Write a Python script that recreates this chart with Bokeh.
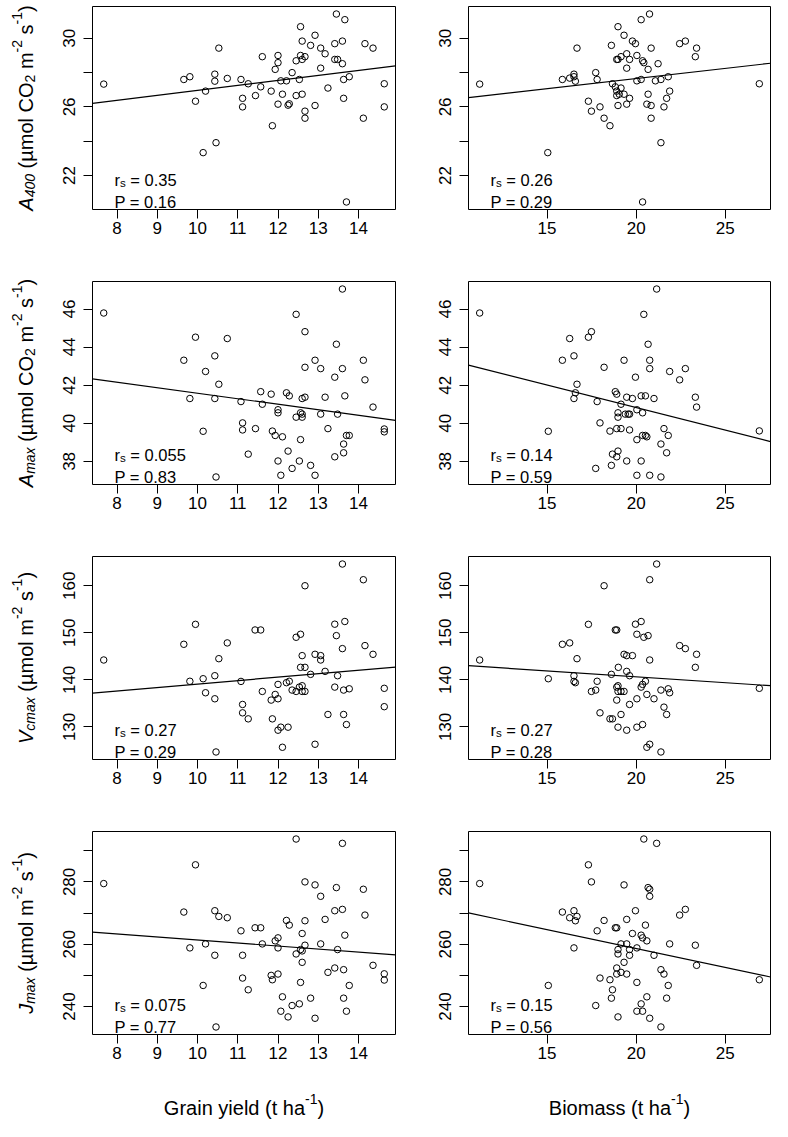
import math
import numpy as np
from bokeh.plotting import figure
from bokeh.layouts import column, row
from bokeh.models import Label, Range1d, FixedTicker
from bokeh.core.properties import value
from bokeh.embed import file_html
from bokeh.resources import INLINE

# ---------------- data ----------------
a400_grain_x = [7.67, 9.66, 9.81, 9.95, 10.2, 10.14, 10.43, 10.43, 10.53, 10.46, 10.74, 11.08, 11.12, 11.12, 11.26, 11.44,
                11.57, 11.61, 11.83, 11.86, 11.93, 12.0, 12.0, 12.0, 12.07, 12.11, 12.21, 12.25, 12.28, 12.35, 12.45, 12.45,
                12.53, 12.56, 12.56, 12.6, 12.6, 12.6, 12.67, 12.67, 12.67, 12.81, 12.92, 12.92, 13.06, 13.06, 13.17, 13.24,
                13.41, 13.41, 13.45, 13.48, 13.6, 13.6, 13.63, 13.63, 13.66, 13.77, 13.7, 14.12, 14.16, 14.36, 14.64, 14.64]
a400_grain_y = [27.33, 27.6, 27.76, 26.33, 26.92, 23.33, 27.91, 27.5, 29.43, 23.91, 27.66, 27.6, 26.5, 26.0, 27.35, 26.66,
                27.17, 28.93, 26.92, 24.9, 28.19, 29.0, 28.58, 26.16, 27.52, 26.74, 27.52, 26.1, 26.18, 28.0, 28.69, 26.66,
                27.6, 30.68, 29.0, 29.84, 26.74, 28.77, 28.93, 25.75, 25.34, 29.59, 30.18, 26.08, 29.43, 28.26, 29.1, 27.1,
                29.69, 28.77, 31.42, 28.77, 29.84, 28.52, 27.6, 26.5, 31.09, 27.76, 20.45, 25.34, 29.69, 29.43, 27.35, 26.0]

a400_bio_x = [11.22, 15.04, 15.86, 16.27, 16.51, 16.51, 16.59, 16.68, 17.32, 17.49, 17.73, 17.81, 17.97, 18.2, 18.53, 18.61,
              18.67, 18.83, 18.91, 18.91, 18.91, 18.98, 18.98, 18.98, 19.05, 19.15, 19.15, 19.32, 19.32, 19.47, 19.47, 19.47,
              19.63, 19.63, 19.79, 19.96, 20.04, 20.04, 20.28, 20.28, 20.36, 20.43, 20.36, 20.67, 20.67, 20.6, 20.75, 20.84,
              20.84, 20.84, 21.08, 21.23, 21.39, 21.39, 21.56, 21.71, 21.8, 21.88, 22.44, 22.76, 23.32, 23.39, 26.91]
a400_bio_y = [27.33, 23.33, 27.6, 27.68, 27.91, 27.76, 27.5, 29.43, 26.33, 25.75, 28.0, 27.6, 26.0, 25.34, 24.9, 29.59,
              27.35, 27.17, 26.92, 26.66, 28.77, 30.68, 28.77, 26.08, 26.74, 27.1, 28.93, 30.18, 26.74, 28.26, 26.16, 29.1,
              28.77, 26.5, 29.84, 29.69, 29.0, 27.52, 27.6, 31.09, 28.69, 28.58, 20.45, 28.19, 26.74, 26.16, 31.42, 29.43,
              26.08, 25.34, 27.52, 28.52, 27.6, 23.91, 26.0, 26.5, 27.76, 26.92, 29.69, 29.84, 28.93, 29.43, 27.35]

amax_grain_x = [7.67, 9.66, 9.81, 9.95, 10.2, 10.14, 10.43, 10.43, 10.53, 10.46, 10.74, 11.08, 11.12, 11.12, 11.26, 11.44,
                11.57, 11.61, 11.83, 11.86, 11.93, 12.0, 12.0, 12.0, 12.07, 12.11, 12.21, 12.28, 12.25, 12.35, 12.45, 12.45,
                12.53, 12.56, 12.56, 12.6, 12.6, 12.6, 12.67, 12.67, 12.67, 12.81, 12.92, 12.92, 13.06, 13.06, 13.17, 13.24,
                13.41, 13.41, 13.45, 13.48, 13.6, 13.6, 13.63, 13.63, 13.66, 13.7, 13.77, 14.12, 14.16, 14.36, 14.64, 14.64]
amax_grain_y = [45.79, 43.31, 41.3, 44.52, 42.72, 39.58, 43.54, 41.3, 42.05, 37.18, 44.45, 41.14, 40.02, 39.65, 38.38, 39.72,
                41.66, 41.0, 41.53, 39.59, 39.36, 40.71, 40.55, 38.02, 37.27, 39.29, 41.6, 41.44, 38.54, 37.63, 45.72, 40.32,
                38.02, 40.55, 39.14, 41.3, 40.32, 40.48, 44.81, 42.94, 41.37, 37.79, 43.31, 37.27, 42.87, 40.48, 41.37, 39.72,
                42.42, 38.24, 44.15, 40.48, 47.05, 42.87, 38.91, 38.45, 41.44, 39.36, 39.36, 43.31, 42.28, 40.85, 39.7, 39.55]

amax_bio_x = [11.22, 15.07, 15.86, 16.27, 16.51, 16.51, 16.59, 16.68, 17.32, 17.49, 17.81, 17.73, 17.97, 18.2, 18.53, 18.61,
              18.67, 18.83, 18.91, 18.91, 18.98, 18.98, 18.98, 18.91, 19.15, 19.15, 19.32, 19.39, 19.47, 19.47, 19.55, 19.63,
              19.63, 19.79, 19.96, 20.04, 20.04, 20.04, 20.28, 20.28, 20.36, 20.36, 20.43, 20.52, 20.52, 20.6, 20.67, 20.76,
              20.76, 20.76, 21.0, 21.15, 21.39, 21.39, 21.56, 21.71, 21.8, 21.88, 22.44, 22.76, 23.32, 23.39, 26.91]
amax_bio_y = [45.79, 39.58, 43.31, 44.45, 43.54, 41.3, 41.6, 42.05, 44.52, 44.81, 41.14, 37.63, 40.02, 42.94, 39.59, 37.79,
              38.38, 41.66, 41.53, 39.72, 40.32, 40.55, 38.54, 38.24, 41.0, 39.72, 43.31, 40.48, 41.37, 38.02, 40.48, 40.48,
              39.65, 41.3, 42.42, 40.71, 39.14, 37.27, 41.44, 38.02, 40.55, 39.36, 45.72, 41.44, 39.36, 39.29, 44.15, 43.31,
              42.87, 37.27, 41.3, 47.05, 38.91, 37.18, 39.72, 38.45, 39.36, 42.72, 42.28, 42.87, 41.37, 40.85, 39.6]

vcmax_grain_x = [7.67, 9.66, 9.81, 9.95, 10.14, 10.2, 10.43, 10.43, 10.53, 10.46, 10.74, 11.08, 11.12, 11.12, 11.26, 11.43,
                 11.57, 11.61, 11.83, 11.86, 11.93, 12.0, 12.0, 12.0, 12.07, 12.11, 12.21, 12.28, 12.25, 12.35, 12.45, 12.45,
                 12.53, 12.56, 12.56, 12.6, 12.6, 12.6, 12.67, 12.67, 12.67, 12.81, 12.92, 12.92, 13.06, 13.06, 13.17, 13.24,
                 13.41, 13.41, 13.45, 13.48, 13.6, 13.6, 13.63, 13.63, 13.66, 13.7, 13.77, 14.12, 14.16, 14.36, 14.64, 14.64]
vcmax_grain_y = [144.22, 147.56, 139.7, 151.8, 140.24, 137.26, 140.88, 135.98, 144.5, 124.67, 147.85, 139.67, 134.77, 132.99,
                 131.71, 150.6, 150.6, 137.54, 135.7, 131.71, 136.9, 139.03, 135.98, 129.3, 129.94, 125.67, 139.4, 139.7,
                 129.94, 137.83, 149.05, 137.54, 138.46, 149.69, 142.66, 145.15, 138.75, 137.54, 160.0, 142.66, 137.54,
                 141.17, 145.43, 126.31, 145.15, 144.22, 141.8, 132.64, 151.83, 138.46, 149.4, 140.88, 164.62, 146.64,
                 137.83, 132.64, 152.4, 130.5, 138.1, 161.28, 147.28, 145.43, 138.2, 134.3]

vcmax_bio_x = [11.22, 15.07, 15.86, 16.27, 16.51, 16.51, 16.59, 16.68, 17.32, 17.49, 17.73, 17.81, 17.97, 18.2, 18.53, 18.61,
               18.67, 18.83, 18.91, 18.91, 18.98, 18.98, 18.91, 18.98, 19.15, 19.15, 19.32, 19.32, 19.0, 19.47, 19.47, 19.47,
               19.63, 19.63, 19.79, 19.96, 20.04, 20.04, 20.04, 20.28, 20.28, 20.36, 20.36, 20.43, 20.52, 20.6, 20.6, 20.67,
               20.76, 20.76, 20.76, 21.0, 21.15, 21.39, 21.39, 21.56, 21.71, 21.8, 21.88, 22.44, 22.76, 23.32, 23.39, 26.91]
vcmax_bio_y = [144.22, 140.24, 147.56, 147.85, 140.88, 139.67, 139.4, 144.5, 151.8, 137.54, 137.83, 139.7, 132.99, 160.0,
               131.71, 141.17, 131.71, 150.6, 150.6, 138.46, 138.75, 137.54, 135.7, 129.94, 137.54, 132.64, 137.54, 145.43,
               142.66, 145.15, 141.8, 129.3, 140.88, 134.77, 145.15, 151.83, 149.69, 135.98, 129.94, 152.4, 138.46, 139.03,
               130.5, 149.05, 139.7, 136.9, 125.67, 149.4, 161.28, 144.22, 126.31, 135.98, 164.62, 137.83, 124.67, 134.2,
               132.64, 138.1, 137.26, 147.28, 146.64, 142.66, 145.43, 138.2]

jmax_grain_x = [7.67, 9.66, 9.81, 9.95, 10.14, 10.2, 10.43, 10.43, 10.53, 10.46, 10.74, 11.08, 11.12, 11.12, 11.26, 11.43,
                11.57, 11.61, 11.83, 11.86, 11.93, 12.0, 12.0, 12.0, 12.11, 12.07, 12.21, 12.28, 12.25, 12.35, 12.45, 12.45,
                12.53, 12.56, 12.56, 12.6, 12.6, 12.6, 12.67, 12.67, 12.67, 12.81, 12.92, 12.92, 13.06, 13.06, 13.17, 13.24,
                13.41, 13.41, 13.45, 13.48, 13.6, 13.6, 13.63, 13.63, 13.66, 13.7, 13.77, 14.12, 14.16, 14.36, 14.64, 14.64]
jmax_grain_y = [279.46, 270.32, 258.82, 285.48, 246.77, 260.1, 270.75, 256.45, 268.92, 233.44, 268.5, 264.3, 256.45, 249.14,
                245.38, 265.27, 265.27, 260.1, 250.0, 248.6, 261.08, 262.04, 258.82, 250.43, 243.12, 238.5, 267.63, 266.13,
                236.67, 240.32, 293.76, 256.88, 240.86, 258.28, 247.74, 263.44, 257.85, 254.19, 280.0, 267.53, 259.68,
                242.69, 279.03, 236.24, 275.38, 260.1, 267.96, 250.97, 270.75, 252.37, 278.17, 258.28, 292.37, 271.18,
                251.83, 242.69, 262.9, 238.5, 246.77, 277.63, 269.35, 253.23, 250.5, 248.5]

jmax_bio_x = [11.22, 15.07, 15.86, 16.27, 16.51, 16.51, 16.59, 16.68, 17.32, 17.49, 17.73, 17.81, 17.97, 18.2, 18.53, 18.61,
              18.67, 18.83, 18.91, 18.91, 18.98, 18.98, 18.91, 18.98, 19.15, 19.15, 19.32, 19.32, 19.47, 19.47, 19.47, 19.63,
              19.63, 19.79, 19.96, 20.04, 20.04, 20.04, 20.28, 20.28, 20.36, 20.36, 20.43, 20.6, 20.52, 20.6, 20.67, 20.76,
              20.76, 20.76, 21.0, 21.15, 21.39, 21.39, 21.56, 21.71, 21.8, 21.88, 22.44, 22.76, 23.32, 23.39, 26.91]
jmax_bio_y = [279.46, 246.77, 270.32, 268.5, 270.75, 258.82, 267.53, 268.92, 285.48, 280.0, 240.32, 264.3, 249.14, 267.63,
              248.6, 242.69, 245.38, 265.27, 265.27, 250.43, 258.28, 256.88, 252.37, 236.67, 260.1, 250.97, 279.03, 254.19,
              267.96, 260.1, 250.43, 258.28, 256.45, 263.44, 270.75, 258.82, 247.74, 238.5, 262.9, 240.86, 262.04, 238.5,
              293.76, 261.08, 266.13, 243.12, 278.17, 277.63, 275.38, 236.24, 256.45, 292.37, 251.83, 233.44, 250.43,
              242.69, 246.77, 260.1, 269.35, 271.18, 259.68, 253.23, 248.6]

grain_ticks = [8, 9, 10, 11, 12, 13, 14]
bio_ticks = [15, 20, 25]
a400_ticks = [22, 24, 26, 28, 30]
a400_labels = {22: "22", 24: "", 26: "26", 28: "", 30: "30"}
amax_ticks = [38, 40, 42, 44, 46]
vcmax_ticks = [130, 140, 150, 160]
jmax_ticks = [240, 250, 260, 270, 280, 290]
jmax_labels = {240: "240", 250: "", 260: "260", 270: "", 280: "280", 290: ""}

rs_grain = ["0.35", "0.055", "0.27", "0.075"]
p_grain = ["0.16", "0.83", "0.29", "0.77"]
rs_bio = ["0.26", "0.14", "0.27", "0.15"]
p_bio = ["0.29", "0.59", "0.28", "0.56"]

# ---------------- helpers ----------------
FONT = "Liberation Sans"
CW = {' ': .278, '(': .333, ')': .333, 'µ': .576, 'm': .833, 'o': .556, 'l': .222, 'C': .722, 'O': .778,
      's': .5, '-': .333, 'a': .556, 'x': .5, 'c': .5, 'A': .667, 'V': .667, 'J': .5, 'G': .778, 'r': .333,
      'i': .222, 'n': .556, 'y': .5, 'e': .556, 'd': .556, 't': .278, 'h': .556, 'P': .667, '=': .584, '.': .278,
      'B': .667}


def tw(s, size):
    return sum(CW.get(ch, .556) for ch in s) * size


def layout_pieces(pieces, fs, center):
    sizes = [fs * (0.7 if k != 'n' else 1.0) for _, k, _ in pieces]
    total = sum(tw(t, s) for (t, _, _), s in zip(pieces, sizes))
    pos = -total / 2 if center else 0.0
    out = []
    for (t, k, it), s in zip(pieces, sizes):
        lead = len(t) - len(t.lstrip(' '))
        pos += tw(' ' * lead, s)
        txt = t.lstrip(' ')
        shift = {'n': 0.0, 'sub': 0.22 * fs, 'sup': -0.42 * fs}[k]
        out.append((txt, pos, shift, s, it))
        pos += tw(txt, s)
    return out


def rich_label(p, pieces, fs, x0, y0):
    """horizontal rich text as Labels, screen units relative to the frame (inside the frame)."""
    for txt, pos, shift, s, it in layout_pieces(pieces, fs, center=False):
        p.add_layout(Label(x=x0 + pos, y=y0 - shift, x_units='screen', y_units='screen', text=txt,
                           text_font=FONT, text_font_size=f"{s:.2f}px",
                           text_font_style='italic' if it else 'normal',
                           text_align='left', text_baseline='alphabetic', text_color='black'))


def rich_glyph(p, pieces, fs, x0, y0, vertical=False):
    """rich text centred at (x0, y0) drawn as text glyphs in a pixel-unit figure."""
    for txt, pos, shift, s, it in layout_pieces(pieces, fs, center=True):
        if vertical:
            lx, ly, ang = x0 + shift, y0 + pos, math.pi / 2
        else:
            lx, ly, ang = x0 + pos, y0 - shift, 0.0
        p.text(x=[lx], y=[ly], text=[txt], angle=ang, text_font=value(FONT),
               text_font_size=value(f"{s:.2f}px"), text_font_style='italic' if it else 'normal',
               text_align='left', text_baseline='alphabetic', text_color='black')


def blank(w, h):
    p = figure(width=w, height=h, output_backend="svg", toolbar_location=None,
               x_range=Range1d(0, w), y_range=Range1d(0, h),
               min_border=0, min_border_left=0, min_border_right=0, min_border_top=0, min_border_bottom=0,
               x_axis_location=None, y_axis_location=None)
    p.xgrid.visible = False
    p.ygrid.visible = False
    p.outline_line_color = None
    p.background_fill_color = "white"
    p.border_fill_color = "white"
    return p


def rng(v):
    lo, hi = min(v), max(v)
    e = (hi - lo) * 0.04
    return Range1d(lo - e, hi + e)


TW = 48                      # y-title column width
FW_L, FW_R, FH = 303, 302, 203
ROW_H = [275, 275, 275, 254]


def panel(xs, ys, xticks, yticks, ylabels, rs, pv, left, h):
    width = (426 - TW) if left else 348
    p = figure(width=width, height=h, output_backend="svg", toolbar_location=None,
               x_range=rng(xs), y_range=rng(ys),
               min_border_left=(92 - TW) if left else 42, min_border_right=31 if left else 4,
               min_border_top=6, min_border_bottom=h - 6 - FH)
    p.xgrid.visible = False
    p.ygrid.visible = False
    p.outline_line_color = "black"
    p.outline_line_width = 1
    p.background_fill_color = "white"
    p.border_fill_color = "white"
    for ax in (p.xaxis, p.yaxis):
        ax.axis_line_color = None
        ax.major_tick_out = 9
        ax.major_tick_in = 0
        ax.minor_tick_line_color = None
        ax.major_tick_line_color = "black"
        ax.major_label_text_font = FONT
        ax.major_label_text_font_size = "17px"
        ax.major_label_text_color = "black"
    p.xaxis.ticker = FixedTicker(ticks=xticks)
    p.yaxis.ticker = FixedTicker(ticks=yticks)
    if ylabels:
        p.yaxis.major_label_overrides = ylabels
    p.xaxis.major_label_standoff = 3
    p.yaxis.major_label_standoff = 8
    p.yaxis.major_label_orientation = "vertical"

    p.scatter(xs, ys, marker="circle", size=6.5, fill_color=None, line_color="black", line_width=1)
    k, b = np.polyfit(np.array(xs), np.array(ys), 1)
    xr = p.x_range
    p.line([xr.start, xr.end], [k * xr.start + b, k * xr.end + b], line_color="black", line_width=1.2)

    rich_label(p, [("r", 'n', False), ("s", 'sub', False), (" = " + rs, 'n', False)], 16.5, 22, 30)
    rich_label(p, [("P = " + pv, 'n', False)], 16.5, 22, 8)
    return p


rows_data = [
    (a400_grain_x, a400_grain_y, a400_bio_x, a400_bio_y, a400_ticks, a400_labels,
     [("A", 'n', True), ("400", 'sub', True), (" (µmol CO", 'n', False), ("2", 'sub', False), (" m", 'n', False),
      ("-2", 'sup', False), (" s", 'n', False), ("-1", 'sup', False), (")", 'n', False)]),
    (amax_grain_x, amax_grain_y, amax_bio_x, amax_bio_y, amax_ticks, None,
     [("A", 'n', True), ("max", 'sub', True), (" (µmol CO", 'n', False), ("2", 'sub', False), (" m", 'n', False),
      ("-2", 'sup', False), (" s", 'n', False), ("-1", 'sup', False), (")", 'n', False)]),
    (vcmax_grain_x, vcmax_grain_y, vcmax_bio_x, vcmax_bio_y, vcmax_ticks, None,
     [("V", 'n', True), ("cmax", 'sub', True), (" (µmol m", 'n', False),
      ("-2", 'sup', False), (" s", 'n', False), ("-1", 'sup', False), (")", 'n', False)]),
    (jmax_grain_x, jmax_grain_y, jmax_bio_x, jmax_bio_y, jmax_ticks, jmax_labels,
     [("J", 'n', True), ("max", 'sub', True), (" (µmol m", 'n', False),
      ("-2", 'sup', False), (" s", 'n', False), ("-1", 'sup', False), (")", 'n', False)]),
]

total_h = sum(ROW_H)
ytitle = blank(TW, total_h)
rows = []
top = 0
for i, (gx, gy, bx, by, yt, yl, title) in enumerate(rows_data):
    h = ROW_H[i]
    pl = panel(gx, gy, grain_ticks, yt, yl, rs_grain[i], p_grain[i], True, h)
    pr = panel(bx, by, bio_ticks, yt, yl, rs_bio[i], p_bio[i], False, h)
    centre_y = total_h - (top + 6 + FH / 2)
    rich_glyph(ytitle, title, 20, 25, centre_y, vertical=True)
    rows.append(row(pl, pr))
    top += h

XT_H = 42
xtitle = blank(TW + 426 - TW + 348, XT_H)
rich_glyph(xtitle, [("Grain yield (t ha", 'n', False), ("-1", 'sup', False), (")", 'n', False)], 20,
           92 + FW_L / 2, 14)
rich_glyph(xtitle, [("Biomass (t ha", 'n', False), ("-1", 'sup', False), (")", 'n', False)], 20,
           426 + 42 + FW_R / 2, 14)

layout = column(row(ytitle, column(*rows)), xtitle)
open("out.html", "w").write(file_html(layout, INLINE))
